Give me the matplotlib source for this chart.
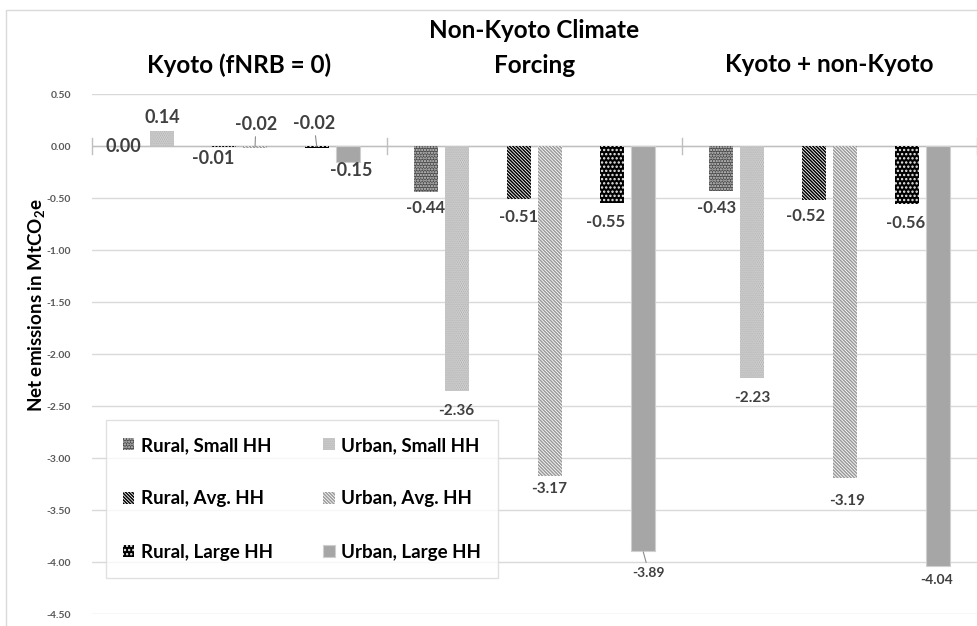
import matplotlib
matplotlib.use("Agg")
import matplotlib.pyplot as plt
from matplotlib.patches import Rectangle
import numpy as np

plt.rcParams['font.family'] = ['Lato', 'DejaVu Sans']
plt.rcParams['mathtext.fontset'] = 'custom'
plt.rcParams['mathtext.rm'] = 'Lato:bold'
plt.rcParams['mathtext.bf'] = 'Lato:bold'
plt.rcParams['hatch.linewidth'] = 1.1

categories = ['Kyoto (fNRB = 0)', 'Non-Kyoto Climate\nForcing', 'Kyoto + non-Kyoto']
series = ['Rural, Small HH', 'Urban, Small HH', 'Rural, Avg. HH',
          'Urban, Avg. HH', 'Rural, Large HH', 'Urban, Large HH']

rural_small = [0.00, -0.44, -0.43]
urban_small = [0.14, -2.36, -2.23]
rural_avg = [-0.01, -0.51, -0.52]
urban_avg = [-0.02, -3.17, -3.19]
rural_large = [-0.02, -0.55, -0.56]
urban_large = [-0.15, -3.89, -4.04]
values = [rural_small, urban_small, rural_avg, urban_avg, rural_large, urban_large]

yticks = [0.5, 0.0, -0.5, -1.0, -1.5, -2.0, -2.5, -3.0, -3.5, -4.0, -4.5]

# bar styles: face, hatch colour, hatch
styles = [
    ('#4a4a4a', '#d0d0d0', '.' * 6),
    ('#e2e2e2', '#a8a8a8', '.' * 8),
    ('white', 'black', '\\' * 10),
    ('white', '#9a9a9a', '\\' * 10),
    ('black', '#f0f0f0', '.' * 4),
    ('#a6a6a6', '#cfcfcf', None),
]
slots = [-3.5, -2.5, -0.5, 0.5, 2.5, 3.5]
slot_w = 0.105
bar_w = 0.08

# label offsets in pixels (dx, dy) and font size, per series per category
offs = [
    [(-8, 0), (-1, -16), (-5, -17)],
    [(0, 14), (-1, -20), (0, -20)],
    [(-11, -11), (0, -18), (-8, -16)],
    [(1, 24), (-1, -13), (2, -23)],
    [(-3, 25), (-6, -19), (-1, -19)],
    [(3, -9), (6, -22), (-1, -14)],
]
sizes = [
    [13, 12, 12],
    [13, 11, 11],
    [13, 12, 12],
    [13, 11, 11],
    [13, 12, 12],
    [13, 10, 10],
]
leaders = {(3, 0), (4, 0), (5, 1)}

fig = plt.figure(figsize=(9.77, 6.26), dpi=100)
W, H = 977, 626
ax = fig.add_axes([92 / W, (H - 614) / H, 885 / W, 520 / H])

x = np.arange(len(categories))
for i, vals in enumerate(values):
    face, hc, hatch = styles[i]
    ax.bar(x + slots[i] * slot_w, vals, bar_w, color=face, edgecolor=hc,
           hatch=hatch, linewidth=0.8 if hatch is None else 0,
           label=series[i], zorder=3)
    for j, v in enumerate(vals):
        dx, dy = offs[i][j]
        kw = {}
        if (i, j) in leaders:
            kw['arrowprops'] = dict(arrowstyle='-', color='#8c8c8c', lw=0.8,
                                    shrinkA=1, shrinkB=1)
        ax.annotate(f'{v:.2f}', xy=(x[j] + slots[i] * slot_w, v),
                    xytext=(dx, dy), textcoords='offset pixels',
                    ha='center', va='center', fontsize=sizes[i][j],
                    fontweight='bold', color='#404040', zorder=5, **kw)

ax.set_xlim(-0.5, 2.5)
ax.set_ylim(-4.5, 0.5)
ax.set_yticks(yticks)
ax.set_yticklabels([f'{t:.2f}' for t in yticks], fontsize=7.5,
                   fontweight='bold', color='#595959')
ax.tick_params(axis='y', length=0, pad=15)
ax.set_xticks([])
ax.grid(axis='y', color='#d9d9d9', lw=1, zorder=0)
for s in ax.spines.values():
    s.set_visible(False)
ax.axhline(0, color='#bfbfbf', lw=1, zorder=2)
for b in [-0.5, 0.5, 1.5, 2.5]:
    ax.plot([b, b], [-0.08, 0.08], color='#bfbfbf', lw=1, zorder=2,
            clip_on=False)

# category headers above plot
for j, c in enumerate(categories):
    yc = 29 / 520 if '\n' not in c else 46 / 520
    ax.text(x[j], 1.0 + yc, c, transform=ax.get_xaxis_transform(),
            ha='center', va='center', fontsize=17.5, fontweight='bold',
            color='black', linespacing=1.6)

fig.text(37 / W, (H - 305) / H, r'Net emissions in MtCO$_2$e', rotation=90,
         ha='center', va='center', fontsize=13.5, fontweight='bold')

# chart border
fig.patches.append(Rectangle((6 / W, -0.1), 1.2, (H - 10) / H + 0.1,
                             transform=fig.transFigure, fill=False,
                             edgecolor='#d9d9d9', lw=1))

h, l = ax.get_legend_handles_labels()
order = [0, 2, 4, 1, 3, 5]
leg = ax.legend([h[k] for k in order], [l[k] for k in order], ncol=2,
                loc='upper left', bbox_to_anchor=(14 / 885, 194 / 520),
                borderaxespad=0, frameon=True, fancybox=False,
                prop={'weight': 'bold', 'size': 13.5}, handlelength=0.6,
                handleheight=0.6, handletextpad=0.35, labelspacing=1.95,
                columnspacing=2.7, borderpad=0.9)
leg.get_frame().set_edgecolor('#d9d9d9')
leg.get_frame().set_linewidth(1)

fig.savefig('out.png', dpi=100)
